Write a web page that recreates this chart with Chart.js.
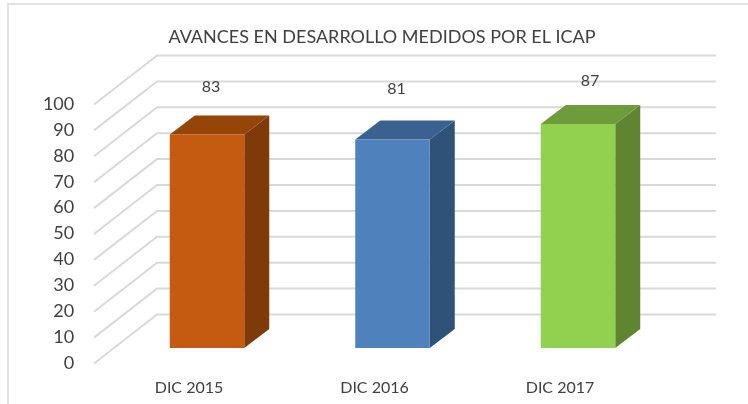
<!DOCTYPE html>
<html><head><meta charset="utf-8">
<style>
html,body{margin:0;padding:0;background:#fff;overflow:hidden}
#wrap{position:relative;width:748px;height:404px}
#frame{position:absolute;left:7px;top:3px;width:760px;height:420px;border:2px solid #e2e2e2;box-sizing:border-box}
canvas{position:absolute;left:0;top:0}
</style>
<script src="https://cdn.jsdelivr.net/npm/chart.js@4"></script>
</head><body><div id="wrap"><canvas id="c" width="748" height="404"></canvas><div id="frame"></div></div>
<script>
const chartTitle = 'AVANCES EN DESARROLLO MEDIDOS POR EL ICAP';
const categories = ['DIC 2015','DIC 2016','DIC 2017'];
const values = [83,81,87];
const yTicks = [0,10,20,30,40,50,60,70,80,90,100];
const frontColors = ['#c55a11','#4f81bd','#92d050'];
const sideColors = ['#7f3a0a','#2f5278','#5f8533'];
const topColors = ['#964509','#3a6190','#6e9c3a'];
const labelNudge = [[4,-48],[4,-51],[12,-43]];

const TEXT='#404040', GRID='#d9d9d9', FONT='Lato, Carlito, Calibri, sans-serif';

const scene3d = {
  id:'scene3d',
  beforeDatasetsDraw(chart){
    const {ctx,scales:{y}} = chart;
    ctx.save();
    ctx.strokeStyle=GRID; ctx.lineWidth=2;
    yTicks.forEach(v=>{
      const p=y.getPixelForValue(v);
      ctx.beginPath();
      ctx.moveTo(94,p+0.5);
      ctx.lineTo(157,p-48.5);
      ctx.lineTo(716,p-48.5);
      ctx.stroke();
    });
    ctx.restore();
    const meta=chart.getDatasetMeta(0);
    meta.data.forEach((b,i)=>{
      const l=b.x-b.width/2, r=b.x+b.width/2, t=b.y, bt=b.base, dx=25, dy=19;
      ctx.fillStyle=sideColors[i];
      ctx.beginPath();ctx.moveTo(r,t);ctx.lineTo(r+dx,t-dy);ctx.lineTo(r+dx,bt-dy);ctx.lineTo(r,bt);ctx.closePath();ctx.fill();
      ctx.fillStyle=topColors[i];
      ctx.beginPath();ctx.moveTo(l,t);ctx.lineTo(l+dx,t-dy);ctx.lineTo(r+dx,t-dy);ctx.lineTo(r,t);ctx.closePath();ctx.fill();
    });
  },
  afterDatasetsDraw(chart){
    const {ctx}=chart;
    ctx.save();
    ctx.fillStyle=TEXT; ctx.font='16px '+FONT; ctx.textAlign='center'; ctx.textBaseline='middle';
    chart.getDatasetMeta(0).data.forEach((b,i)=>{
      ctx.fillText(String(values[i]), b.x+labelNudge[i][0], b.y+labelNudge[i][1]);
    });
    ctx.restore();
  },
  beforeDraw(chart){ if(chart.titleBlock){ chart.titleBlock.left=16; chart.titleBlock.right=748; } }
};

new Chart(document.getElementById('c'),{
  type:'bar',
  data:{labels:categories,datasets:[{data:values,backgroundColor:frontColors,borderWidth:0,yAxisID:'yBar',barPercentage:0.4016,categoryPercentage:1}]},
  plugins:[scene3d],
  options:{
    responsive:false,animation:false,
    layout:{padding:{right:77.25}},
    plugins:{
      legend:{display:false},tooltip:{enabled:false},
      title:{display:true,text:chartTitle,color:TEXT,font:{family:FONT,size:18,weight:'normal'},padding:{top:26,bottom:56.4}}
    },
    scales:{
      x:{grid:{display:false},border:{display:false},
        ticks:{color:TEXT,font:{family:FONT,size:16},labelOffset:-18,padding:7,maxRotation:0},
        afterFit(s){s.height=41;s.paddingLeft=0;s.paddingRight=0;}},
      y:{min:0,max:100,position:'left',grid:{display:false},border:{display:false},
        ticks:{stepSize:10,color:TEXT,font:{family:FONT,size:18},padding:32},
        afterFit(s){s.width=114.25;s.paddingTop=0;s.paddingBottom=0;}},
      yBar:{display:false,min:-5.8,max:94.8}
    }
  }
});
</script></body></html>
